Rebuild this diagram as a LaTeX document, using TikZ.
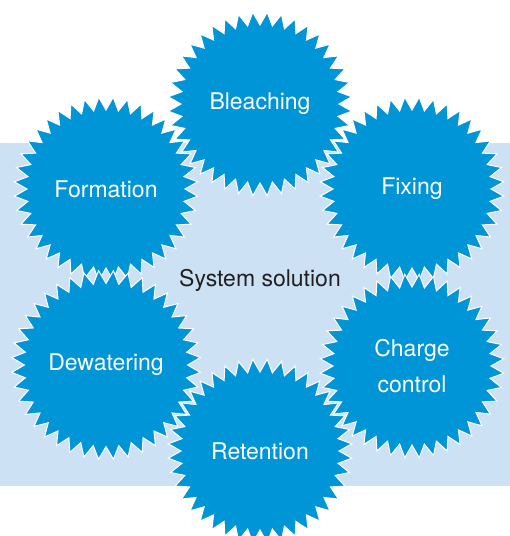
\documentclass[tikz,border=0pt]{standalone}
\usepackage{fontspec}
\setmainfont{TeX Gyre Heros}
\usetikzlibrary{shapes.geometric}
\definecolor{starblue}{RGB}{0,149,214}
\definecolor{bgblue}{RGB}{204,225,244}
\definecolor{darktext}{RGB}{35,31,32}
\begin{document}
\begin{tikzpicture}[x=1pt,y=-1pt,
  burst/.style={star, star points=40, star point height=13pt, minimum size=184pt,
    shape border rotate=4.5, fill=starblue, draw=white, line width=1pt,
    text=white, font=\fontsize{23}{36}\selectfont, align=center, inner sep=0pt}]
\useasboundingbox (0,0) rectangle (510,536);
\fill[bgblue] (0,143) rectangle (510,486);
\node[burst] (formation) at (106,189) {Formation};
\node[burst] (fixing) at (412,189) {Fixing};
\node[burst] (bleaching) at (260,104) {Bleaching};
\node[burst] (dewatering) at (106,365) {Dewatering};
\node[burst] (charge) at (412,366) {Charge\\control};
\node[burst] (retention) at (260,451) {Retention};
\node[text=darktext, font=\fontsize{23}{28}\selectfont] (system) at (260,280) {System solution};
\end{tikzpicture}
\end{document}
